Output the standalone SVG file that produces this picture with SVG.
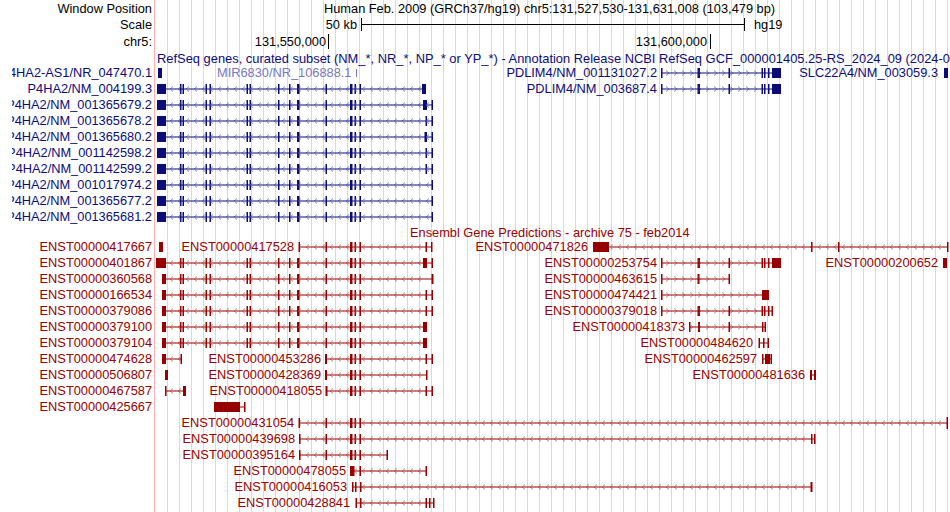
<svg xmlns="http://www.w3.org/2000/svg" width="950" height="512" viewBox="0 0 950 512">
<style>
text{font-family:"Liberation Sans",Arial,sans-serif;font-size:12.8px}
.k{fill:#000}
.r{fill:#0c0c78}
.e{fill:#960000}
.lr{text-anchor:end}
.fr{fill:#0c0c78}
.fe{fill:#960000}
</style>
<defs>
<pattern id="rl" patternUnits="userSpaceOnUse" width="8" height="16" x="0" y="0"><path d="M5,6.5 L2,9 L5,11.5" fill="none" stroke="#5050a0" stroke-width="0.7"/></pattern>
<pattern id="rg" patternUnits="userSpaceOnUse" width="8" height="16" x="0" y="0"><path d="M2,6.5 L5,9 L2,11.5" fill="none" stroke="#5050a0" stroke-width="0.7"/></pattern>
<pattern id="el" patternUnits="userSpaceOnUse" width="8" height="16" x="0" y="0"><path d="M5,4.5 L2,7 L5,9.5" fill="none" stroke="#b04848" stroke-width="0.7"/></pattern>
<pattern id="eg" patternUnits="userSpaceOnUse" width="8" height="16" x="0" y="0"><path d="M2,4.5 L5,7 L2,9.5" fill="none" stroke="#b04848" stroke-width="0.7"/></pattern>
<g id="pex">
<rect x="180" y="-5" width="1.5" height="10"/><rect x="182.5" y="-5" width="1.5" height="10"/>
<rect x="205.5" y="-5" width="1.5" height="10"/><rect x="209.5" y="-5" width="1.5" height="10"/>
<rect x="246.5" y="-5" width="1.5" height="10"/><rect x="249.5" y="-5" width="1.5" height="10"/>
<rect x="278" y="-5" width="1.5" height="10"/><rect x="289" y="-5" width="1.5" height="10"/>
<rect x="297" y="-5" width="2.5" height="10"/><rect x="325.5" y="-5" width="1.5" height="10"/>
<rect x="350" y="-5" width="2.5" height="10"/><rect x="354.5" y="-5" width="1.5" height="10"/>
<rect x="359.5" y="-5" width="1.5" height="10"/>
</g>
<g id="tex">
<rect x="325.5" y="-5" width="1.5" height="10"/><rect x="350" y="-5" width="2.5" height="10"/>
<rect x="354.5" y="-5" width="1.5" height="10"/><rect x="359.5" y="-5" width="1.5" height="10"/>
</g>
<g id="pdex">
<rect x="697.5" y="-5" width="2.5" height="10"/><rect x="728.5" y="-5" width="1.5" height="10"/>
<rect x="761.5" y="-5" width="1.5" height="10"/><rect x="764" y="-5" width="1.5" height="10"/>
<rect x="768" y="-5" width="1.5" height="10"/>
</g>
<clipPath id="lc"><rect x="12" y="0" width="143" height="512"/></clipPath>
<clipPath id="wc"><rect x="0" y="0" width="950" height="512"/></clipPath>
</defs>
<rect width="950" height="512" fill="#fff"/>
<g id="grid" stroke="#d4d4ff" stroke-width="1">
<path d="M167.5,0V512M179.5,0V512M191.5,0V512M203.5,0V512M215.5,0V512M227.5,0V512M239.5,0V512M251.5,0V512M263.5,0V512M275.5,0V512M287.5,0V512M299.5,0V512M311.5,0V512M323.5,0V512M335.5,0V512M347.5,0V512M359.5,0V512M371.5,0V512M383.5,0V512M395.5,0V512M407.5,0V512M419.5,0V512M431.5,0V512M443.5,0V512M455.5,0V512M467.5,0V512M479.5,0V512M491.5,0V512M503.5,0V512M515.5,0V512M527.5,0V512M539.5,0V512M551.5,0V512M563.5,0V512M575.5,0V512M587.5,0V512M599.5,0V512M611.5,0V512M623.5,0V512M635.5,0V512M647.5,0V512M659.5,0V512M671.5,0V512M683.5,0V512M695.5,0V512M707.5,0V512M719.5,0V512M731.5,0V512M743.5,0V512M755.5,0V512M767.5,0V512M779.5,0V512M791.5,0V512M803.5,0V512M815.5,0V512M827.5,0V512M839.5,0V512M851.5,0V512M863.5,0V512M875.5,0V512M887.5,0V512M899.5,0V512M911.5,0V512M923.5,0V512M935.5,0V512M947.5,0V512"/>
</g>
<line x1="154.5" y1="0" x2="154.5" y2="512" stroke="#ffb0b0"/>
<g id="header">
<text class="k lr" x="152" y="13">Window Position</text>
<text class="k lr" x="152" y="29">Scale</text>
<text class="k lr" x="152" y="46">chr5:</text>
<text class="k" x="324" y="13">Human Feb. 2009 (GRCh37/hg19)   chr5:131,527,530-131,631,008 (103,479 bp)</text>
<text class="k lr" x="357" y="29">50 kb</text>
<path d="M361.5,18V31M361,24.5H745M744.5,18V31" stroke="#000" fill="none"/>
<text class="k" x="754" y="29">hg19</text>
<text class="k lr" x="326" y="46">131,550,000</text>
<line x1="328.5" y1="34" x2="328.5" y2="49" stroke="#000"/>
<text class="k lr" x="707" y="46">131,600,000</text>
<line x1="710.5" y1="34" x2="710.5" y2="49" stroke="#000"/>
</g>
<g id="refseq">
<text class="r" x="157" y="63" textLength="793" lengthAdjust="spacingAndGlyphs">RefSeq genes, curated subset (NM_*, NR_*, NP_* or YP_*) - Annotation Release NCBI RefSeq GCF_000001405.25-RS_2024_09 (2024-0</text>
<g clip-path="url(#lc)">
<text class="r lr" x="152" y="77">P4HA2-AS1/NR_047470.1</text>
<text class="r lr" x="152" y="93">P4HA2/NM_004199.3</text>
<text class="r lr" x="152" y="109">P4HA2/NM_001365679.2</text>
<text class="r lr" x="152" y="125">P4HA2/NM_001365678.2</text>
<text class="r lr" x="152" y="141">P4HA2/NM_001365680.2</text>
<text class="r lr" x="152" y="157">P4HA2/NM_001142598.2</text>
<text class="r lr" x="152" y="173">P4HA2/NM_001142599.2</text>
<text class="r lr" x="152" y="189">P4HA2/NM_001017974.2</text>
<text class="r lr" x="152" y="205">P4HA2/NM_001365677.2</text>
<text class="r lr" x="152" y="221">P4HA2/NM_001365681.2</text>
</g>
<g transform="translate(0,73)"><rect class="fr" x="158" y="-5" width="4" height="10"/><text x="217" y="4" fill="#7878c0">MIR6830/NR_106888.1</text><rect x="356" y="-4" width="1" height="8" fill="#7878c0"/></g>
<g transform="translate(0,89)" class="fr"><rect x="157" y="-5" width="9" height="10"/><rect x="166" y="-0.5" width="260" height="1"/><use href="#pex"/><rect x="422" y="-5" width="4" height="10"/></g>
<g transform="translate(0,105)" class="fr"><rect x="157" y="-5" width="9" height="10"/><rect x="166" y="-0.5" width="266" height="1"/><use href="#pex"/><rect x="423" y="-5" width="4" height="10"/><rect x="431.5" y="-5" width="1.5" height="10"/></g>
<g transform="translate(0,121)" class="fr"><rect x="157" y="-5" width="9" height="10"/><rect x="166" y="-0.5" width="266" height="1"/><use href="#pex"/><rect x="425.5" y="-5" width="1.5" height="10"/><rect x="431.5" y="-5" width="1.5" height="10"/></g>
<g transform="translate(0,137)" class="fr"><rect x="157" y="-5" width="9" height="10"/><rect x="166" y="-0.5" width="266" height="1"/><use href="#pex"/><rect x="424.5" y="-5" width="2.5" height="10"/><rect x="431.5" y="-5" width="1.5" height="10"/></g>
<g transform="translate(0,153)" class="fr"><rect x="157" y="-5" width="9" height="10"/><rect x="166" y="-0.5" width="266" height="1"/><use href="#pex"/><rect x="425.5" y="-5" width="1.5" height="10"/><rect x="431.5" y="-5" width="1.5" height="10"/></g>
<g transform="translate(0,169)" class="fr"><rect x="157" y="-5" width="9" height="10"/><rect x="166" y="-0.5" width="266" height="1"/><use href="#pex"/><rect x="425.5" y="-5" width="1.5" height="10"/><rect x="431.5" y="-5" width="1.5" height="10"/></g>
<g transform="translate(0,185)" class="fr"><rect x="157" y="-5" width="9" height="10"/><rect x="166" y="-0.5" width="266" height="1"/><use href="#pex"/><rect x="431.5" y="-5" width="1.5" height="10"/></g>
<g transform="translate(0,201)" class="fr"><rect x="157" y="-5" width="9" height="10"/><rect x="166" y="-0.5" width="266" height="1"/><use href="#pex"/><rect x="431.5" y="-5" width="1.5" height="10"/></g>
<g transform="translate(0,217)" class="fr"><rect x="157" y="-5" width="9" height="10"/><rect x="166" y="-0.5" width="266" height="1"/><use href="#pex"/><rect x="431.5" y="-5" width="1.5" height="10"/></g>
<rect x="167" y="80" width="255" height="14" fill="url(#rl)"/>
<rect x="167" y="96" width="263" height="126" fill="url(#rl)"/>
<text class="r lr" x="657" y="77">PDLIM4/NM_001131027.2</text>
<text class="r lr" x="657" y="93">PDLIM4/NM_003687.4</text>
<g transform="translate(0,73)" class="fr"><rect x="661" y="-5" width="1.5" height="10"/><rect x="661" y="-0.5" width="111" height="1"/><use href="#pdex"/><rect x="772" y="-5" width="9" height="10"/></g>
<g transform="translate(0,89)" class="fr"><rect x="661" y="-5" width="1.5" height="10"/><rect x="661" y="-0.5" width="111" height="1"/><use href="#pdex"/><rect x="772" y="-5" width="9" height="10"/></g>
<rect x="663" y="64" width="98" height="30" fill="url(#rg)"/>
<text class="r lr" x="938" y="77">SLC22A4/NM_003059.3</text>
<rect class="fr" x="944" y="68" width="4" height="10"/>
</g>
<g id="ensembl">
<text class="e" x="410" y="237">Ensembl Gene Predictions - archive 75 - feb2014</text>
<g class="e lr">
<text x="152" y="251">ENST00000417667</text><text x="152" y="267">ENST00000401867</text><text x="152" y="283">ENST00000360568</text><text x="152" y="299">ENST00000166534</text><text x="152" y="315">ENST00000379086</text><text x="152" y="331">ENST00000379100</text><text x="152" y="347">ENST00000379104</text><text x="152" y="363">ENST00000474628</text><text x="152" y="379">ENST00000506807</text><text x="152" y="395">ENST00000467587</text><text x="152" y="411">ENST00000425667</text>
<text x="294" y="251">ENST00000417528</text>
<text x="321" y="363">ENST00000453286</text><text x="321" y="379">ENST00000428369</text><text x="322" y="395">ENST00000418055</text>
<text x="294" y="427">ENST00000431054</text><text x="295" y="443">ENST00000439698</text><text x="295" y="459">ENST00000395164</text>
<text x="346" y="475">ENST00000478055</text><text x="347" y="491">ENST00000416053</text><text x="350" y="507">ENST00000428841</text>
<text x="588" y="251">ENST00000471826</text><text x="657" y="267">ENST00000253754</text><text x="657" y="283">ENST00000463615</text><text x="657" y="299">ENST00000474421</text><text x="657" y="315">ENST00000379018</text><text x="685" y="331">ENST00000418373</text><text x="753" y="347">ENST00000484620</text><text x="757" y="363">ENST00000462597</text><text x="805" y="379">ENST00000481636</text><text x="938" y="267">ENST00000200652</text>
</g>
<g class="fe">
<g transform="translate(0,247)"><rect x="159" y="-5" width="4" height="10"/>
<rect x="298.5" y="-5" width="1.5" height="10"/><rect x="299" y="-0.5" width="133" height="1"/><use href="#tex"/><rect x="425.5" y="-5" width="1.5" height="10"/><rect x="431" y="-5" width="1.5" height="10"/>
<rect x="593" y="-5" width="16" height="10"/><rect x="609" y="-0.5" width="338" height="1"/><rect x="811" y="-5" width="1.5" height="10"/><rect x="838" y="-5" width="1.5" height="10"/><rect x="947" y="-5" width="1.5" height="10"/></g>
<g transform="translate(0,263)"><rect x="156" y="-5" width="10" height="10"/><rect x="166" y="-0.5" width="266" height="1"/><use href="#pex"/><rect x="423" y="-5" width="4" height="10"/><rect x="431.5" y="-5" width="1.5" height="10"/>
<rect x="661" y="-5" width="1.5" height="10"/><rect x="661" y="-0.5" width="111" height="1"/><use href="#pdex"/><rect x="772" y="-5" width="9" height="10"/>
<rect x="943" y="-5" width="4" height="10"/></g>
<g transform="translate(0,279)"><rect x="162" y="-5" width="4" height="10"/><rect x="166" y="-0.5" width="266" height="1"/><use href="#pex"/><rect x="431.5" y="-5" width="2" height="10"/>
<rect x="661" y="-5" width="1.5" height="10"/><rect x="661" y="-0.5" width="68" height="1"/><rect x="697.5" y="-5" width="2" height="10"/><rect x="728.5" y="-5" width="1.5" height="10"/></g>
<g transform="translate(0,295)"><rect x="162" y="-5" width="4" height="10"/><rect x="166" y="-0.5" width="266" height="1"/><use href="#pex"/><rect x="425.5" y="-5" width="1.5" height="10"/><rect x="431.5" y="-5" width="1.5" height="10"/>
<rect x="661" y="-5" width="1.5" height="10"/><rect x="661" y="-0.5" width="102" height="1"/><rect x="762" y="-5" width="7" height="10"/></g>
<g transform="translate(0,311)"><rect x="162" y="-5" width="4" height="10"/><rect x="166" y="-0.5" width="266" height="1"/><use href="#pex"/><rect x="425.5" y="-5" width="1.5" height="10"/><rect x="431.5" y="-5" width="1.5" height="10"/>
<rect x="661" y="-5" width="1.5" height="10"/><rect x="661" y="-0.5" width="111" height="1"/><use href="#pdex"/><rect x="771.5" y="-5" width="1.5" height="10"/></g>
<g transform="translate(0,327)"><rect x="162" y="-5" width="4" height="10"/><rect x="166" y="-0.5" width="258" height="1"/><use href="#pex"/><rect x="423" y="-5" width="4" height="10"/>
<rect x="689" y="-5" width="1.5" height="10"/><rect x="689" y="-0.5" width="76" height="1"/><rect x="698" y="-5" width="2" height="10"/><rect x="728.5" y="-5" width="1.5" height="10"/><rect x="762" y="-5" width="1.5" height="10"/><rect x="764.5" y="-5" width="1.5" height="10"/></g>
<g transform="translate(0,343)"><rect x="162" y="-5" width="4" height="10"/><rect x="166" y="-0.5" width="258" height="1"/><use href="#pex"/><rect x="423" y="-5" width="4" height="10"/>
<rect x="758.5" y="-5" width="1.5" height="10"/><rect x="759" y="-0.5" width="10" height="1"/><rect x="763" y="-5" width="1.5" height="10"/><rect x="767.5" y="-5" width="1.5" height="10"/></g>
<g transform="translate(0,359)"><rect x="162" y="-5" width="4" height="10"/><rect x="166" y="-0.5" width="15" height="1"/><rect x="180.5" y="-5" width="1.5" height="10"/>
<rect x="325" y="-5" width="1.5" height="10"/><rect x="325" y="-0.5" width="107" height="1"/><use href="#tex"/><rect x="425.5" y="-5" width="1.5" height="10"/><rect x="431.5" y="-5" width="1.5" height="10"/>
<rect x="762" y="-5" width="1.5" height="10"/><rect x="762" y="-0.5" width="9" height="1"/><rect x="765" y="-5" width="5" height="10"/><rect x="770.5" y="-5" width="1.5" height="10"/></g>
<g transform="translate(0,375)"><rect x="165" y="-5" width="3" height="10"/>
<rect x="325" y="-5" width="1.5" height="10"/><rect x="325" y="-0.5" width="102" height="1"/><use href="#tex"/><rect x="426" y="-5" width="1.5" height="10"/>
<rect x="810" y="-5" width="2" height="10"/><rect x="810" y="-0.5" width="6" height="1"/><rect x="814" y="-5" width="2" height="10"/></g>
<g transform="translate(0,391)"><rect x="165" y="-5" width="1.5" height="10"/><rect x="165" y="-0.5" width="19" height="1"/><rect x="183" y="-5" width="3" height="10"/>
<rect x="326" y="-5" width="1.5" height="10"/><rect x="326" y="-0.5" width="106" height="1"/><use href="#tex"/><rect x="425.5" y="-5" width="1.5" height="10"/><rect x="431.5" y="-5" width="1.5" height="10"/></g>
<g transform="translate(0,407)"><rect x="214" y="-5" width="26" height="10"/><rect x="240" y="-0.5" width="5" height="1"/><rect x="244" y="-5" width="1.5" height="10"/></g>
<g transform="translate(0,423)"><rect x="298.5" y="-5" width="1.5" height="10"/><rect x="299" y="-0.5" width="648" height="1"/><use href="#tex"/><rect x="946.5" y="-6" width="1.5" height="12"/></g>
<g transform="translate(0,439)"><rect x="299" y="-5" width="1.5" height="10"/><rect x="299" y="-0.5" width="516" height="1"/><use href="#tex"/><rect x="811" y="-5" width="1.5" height="10"/><rect x="814" y="-5" width="1.5" height="10"/></g>
<g transform="translate(0,455)"><rect x="299" y="-5" width="1.5" height="10"/><rect x="299" y="-0.5" width="88" height="1"/><use href="#tex"/><rect x="386.5" y="-5" width="1.5" height="10"/></g>
<g transform="translate(0,471)"><rect x="350" y="-5" width="4.5" height="10"/><rect x="354" y="-0.5" width="72" height="1"/><rect x="359.5" y="-5" width="1.5" height="10"/><rect x="425.5" y="-5" width="1.5" height="10"/></g>
<g transform="translate(0,487)"><rect x="352" y="-5" width="1.5" height="10"/><rect x="352" y="-0.5" width="460" height="1"/><rect x="355" y="-5" width="1.5" height="10"/><rect x="360" y="-5" width="1.5" height="10"/><rect x="810.5" y="-5" width="2" height="10"/></g>
<g transform="translate(0,503)"><rect x="355.5" y="-5" width="1.5" height="10"/><rect x="356" y="-0.5" width="78" height="1"/><rect x="360" y="-5" width="1.5" height="10"/><rect x="425.5" y="-5" width="1.5" height="10"/><rect x="429" y="-5" width="1.5" height="10"/><rect x="433" y="-5" width="1.5" height="10"/></g>
</g>
<g id="chev">
<rect x="300" y="240" width="125" height="14" fill="url(#el)"/>
<rect x="611" y="240" width="335" height="14" fill="url(#el)"/>
<rect x="167" y="256" width="256" height="94" fill="url(#el)"/>
<rect x="167" y="352" width="13" height="14" fill="url(#el)"/>
<rect x="327" y="352" width="98" height="46" fill="url(#el)"/>
<rect x="167" y="384" width="16" height="14" fill="url(#el)"/>
<rect x="300" y="416" width="646" height="14" fill="url(#el)"/>
<rect x="300" y="432" width="510" height="14" fill="url(#el)"/>
<rect x="300" y="448" width="86" height="14" fill="url(#el)"/>
<rect x="355" y="464" width="70" height="14" fill="url(#el)"/>
<rect x="362" y="480" width="448" height="14" fill="url(#el)"/>
<rect x="362" y="496" width="63" height="14" fill="url(#el)"/>
<rect x="663" y="256" width="98" height="14" fill="url(#eg)"/>
<rect x="663" y="272" width="64" height="14" fill="url(#eg)"/>
<rect x="663" y="288" width="98" height="30" fill="url(#eg)"/>
<rect x="691" y="320" width="70" height="14" fill="url(#eg)"/>
</g>
</g>
</svg>
